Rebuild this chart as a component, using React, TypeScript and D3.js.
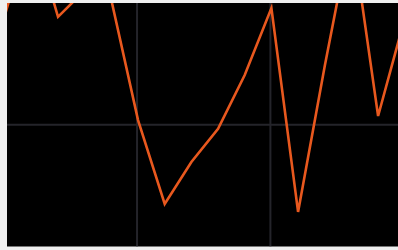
import React, { useEffect, useRef } from "react";
import * as d3 from "d3";

// point index along x, and series values
const xIndex = [0, 1, 2, 3, 4, 5, 6, 7, 8, 9, 10, 11, 12, 13, 14, 15];
const values = [44.7, 82.0, 44.3, 55.2, 51.2, 1.9, -32.5, -15.3, -1.7, 20.4, 47.9, -35.8, 24.1, 80.4, 3.6, 43.8];
const xGridTicks = [5, 10];
const yGridTicks = [0];

const App = () => {
  const svgRef = useRef<SVGSVGElement>(null);

  useEffect(() => {
    const width = 398,
      height = 250;
    const plot = { left: 7, top: 3, right: 398, bottom: 246.5 };

    const lineColor = "#e8581e",
      gridColor = "#24242a",
      pageColor = "#efefef";

    const svg = d3
      .select(svgRef.current)
      .attr("width", width)
      .attr("height", height)
      .html("");

    svg.append("rect").attr("width", width).attr("height", height).attr("fill", pageColor);

    // visible window of the (zoomed) chart
    const x = d3.scaleLinear().domain([0.0875, 14.746]).range([plot.left, plot.right]);
    const y = d3.scaleLinear().domain([-50, 50]).range([plot.bottom, plot.top]);

    svg
      .append("defs")
      .append("clipPath")
      .attr("id", "plot-clip")
      .append("rect")
      .attr("x", plot.left)
      .attr("y", plot.top)
      .attr("width", plot.right - plot.left)
      .attr("height", plot.bottom - plot.top);

    svg
      .append("rect")
      .attr("x", plot.left)
      .attr("y", plot.top)
      .attr("width", plot.right - plot.left)
      .attr("height", plot.bottom - plot.top)
      .attr("fill", "#000");

    const g = svg.append("g").attr("clip-path", "url(#plot-clip)");

    // grid lines
    g.selectAll("line.vx")
      .data(xGridTicks)
      .enter()
      .append("line")
      .attr("x1", (d) => x(d) - 1)
      .attr("x2", (d) => x(d) - 1)
      .attr("y1", plot.top)
      .attr("y2", plot.bottom)
      .attr("stroke", gridColor)
      .attr("stroke-width", 2);

    g.selectAll("line.hy")
      .data(yGridTicks)
      .enter()
      .append("line")
      .attr("x1", plot.left)
      .attr("x2", plot.right)
      .attr("y1", (d) => y(d))
      .attr("y2", (d) => y(d))
      .attr("stroke", gridColor)
      .attr("stroke-width", 2);

    const line = d3
      .line<number>()
      .x((_, i) => x(xIndex[i]))
      .y((d) => y(d));

    g.append("path")
      .datum(values)
      .attr("d", line)
      .attr("fill", "none")
      .attr("stroke", lineColor)
      .attr("stroke-width", 2.6);
  }, []);

  return (
    <svg ref={svgRef} style={{ position: "fixed", left: 0, top: 0, display: "block" }}></svg>
  );
};

export default App;
